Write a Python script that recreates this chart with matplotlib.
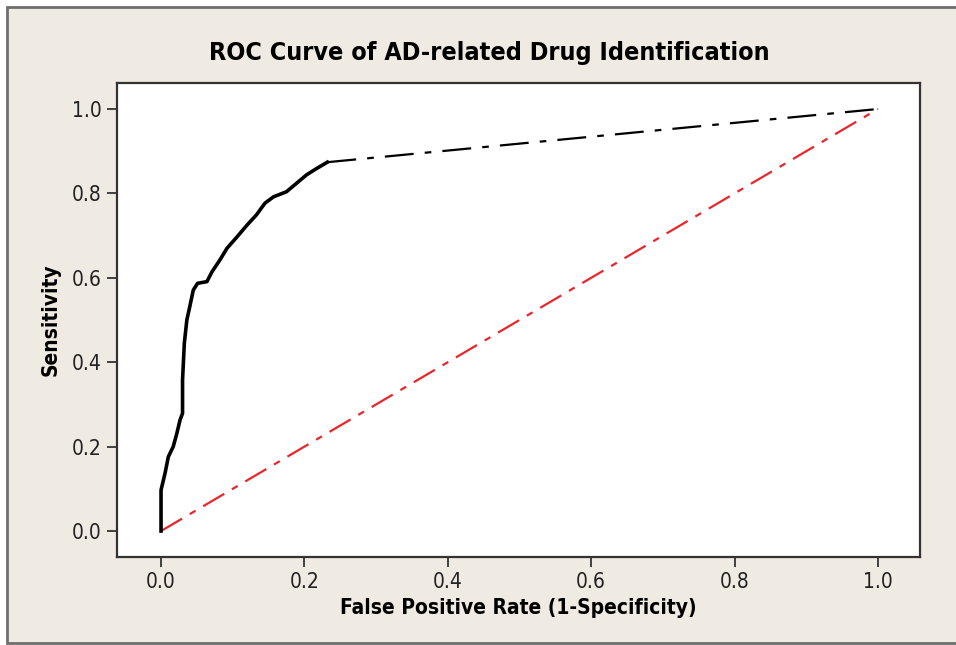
import matplotlib
matplotlib.use("Agg")
import matplotlib.pyplot as plt
from matplotlib.patches import Rectangle

# ROC points (dense, stepped part of the curve)
fpr = [0.0, 0.0, 0.0056, 0.0102, 0.017, 0.022, 0.0265, 0.030, 0.030, 0.0325,
       0.036, 0.040, 0.045, 0.051, 0.064, 0.071, 0.082, 0.092, 0.106, 0.120,
       0.133, 0.145, 0.157, 0.175, 0.189, 0.203, 0.217, 0.232]
tpr = [0.0, 0.097, 0.137, 0.176, 0.200, 0.231, 0.263, 0.279, 0.358, 0.445,
       0.500, 0.531, 0.571, 0.587, 0.591, 0.614, 0.642, 0.670, 0.697, 0.725,
       0.749, 0.777, 0.792, 0.804, 0.824, 0.844, 0.859, 0.874]
# the sparse tail out to (1, 1)
tail_fpr = [0.232, 1.0]
tail_tpr = [0.874, 1.0]
chance = [0.0, 1.0]
ticks = [0.0, 0.2, 0.4, 0.6, 0.8, 1.0]

font = dict(family="DejaVu Sans", stretch="condensed")
bg = "#efebe2"

fig = plt.figure(figsize=(9.56, 6.45), dpi=100, facecolor="white")
fig.patches.append(Rectangle((0.0073, 0.003), 1.0, 0.986, transform=fig.transFigure,
                             facecolor=bg, edgecolor="#6e6e6e", linewidth=2.0,
                             zorder=-1))

ax = fig.add_axes([0.1224, 0.1364, 0.8399, 0.7349])
ax.set_facecolor("white")

ax.plot(chance, chance, color="#e8262c", linewidth=1.6, dashes=(11, 4, 3, 4))
ax.plot(tail_fpr, tail_tpr, color="black", linewidth=1.6, dashes=(13, 5, 3, 5))
ax.plot(fpr, tpr, color="black", linewidth=2.6, solid_joinstyle="round")

ax.set_xlim(-0.0614, 1.0586)
ax.set_ylim(-0.0616, 1.0616)
ax.set_xticks(ticks)
ax.set_yticks(ticks)
ax.set_xticklabels([f"{t:.1f}" for t in ticks], fontsize=15, **font)
ax.set_yticklabels([f"{t:.1f}" for t in ticks], fontsize=15, **font)
ax.tick_params(direction="out", length=7, width=1.3, color="#333333",
               labelcolor="#222222", pad=4)
for s in ax.spines.values():
    s.set_linewidth(1.6)
    s.set_color("#333333")

ax.set_xlabel("False Positive Rate (1-Specificity)", fontsize=15,
              fontweight="bold", labelpad=4, **font)
ax.set_ylabel("Sensitivity", fontsize=15, fontweight="bold", labelpad=8, **font)
fig.text(0.5117, 0.918, "ROC Curve of AD-related Drug Identification",
         fontsize=18, fontweight="bold", ha="center", va="center", **font)

fig.savefig("out.png", dpi=100, facecolor=fig.get_facecolor())
